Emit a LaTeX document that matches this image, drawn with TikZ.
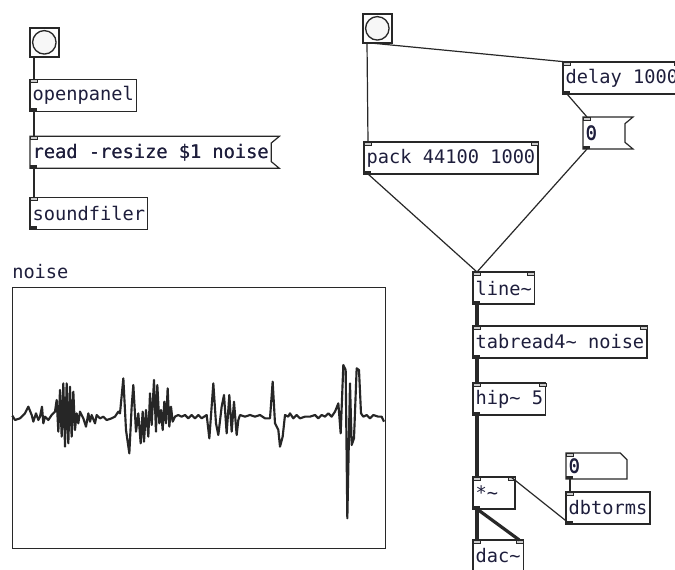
\documentclass[tikz,border=0pt]{standalone}
\usepackage{fontspec}
\usepackage{xcolor}
\usepackage{tikz}
\usetikzlibrary{positioning}

\newfontfamily\pdfont{DejaVu Sans Mono}
\definecolor{pdtext}{RGB}{30,30,60}
\definecolor{pdline}{RGB}{40,40,40}

\newcommand{\inlet}[2][7]{\filldraw[inletsty] (#2) rectangle ++(#1,3);}
\newcommand{\outlet}[1]{\fill[outletsty] (#1) rectangle ++(7,-3);}
\newcommand{\msgflag}[1]{%
  \draw[boxline] (#1.north west) -- ([xshift=6pt]#1.north east)
    -- ([yshift=-5pt]#1.north east) -- ([yshift=5pt]#1.south east)
    -- ([xshift=6pt]#1.south east) -- (#1.south west) -- cycle;}
\newcommand{\atomcut}[1]{%
  \draw[boxline] (#1.north west) -- ([xshift=-5pt]#1.north east)
    -- ([yshift=-5pt]#1.north east) -- (#1.south east)
    -- (#1.south west) -- cycle;}

\begin{document}
\begin{tikzpicture}
 [x=0.75pt, y=-0.75pt,
  pdfnt/.style={font=\pdfont\fontsize{14pt}{16pt}\selectfont, text=pdtext},
  pdobj/.style={pdfnt, draw=pdline, line width=0.9pt, fill=white, anchor=north west,
                minimum height=24pt, inner xsep=2pt, inner ysep=0pt, outer sep=0pt},
  pdmsg/.style={pdobj, draw=none},
  boxline/.style={draw=pdline, line width=0.9pt},
  bangbox/.style={draw=pdline, line width=1.4pt, fill=white, anchor=north west,
                  minimum size=21.5pt, inner sep=0pt, outer sep=0pt},
  bangring/.style={draw=pdline, line width=1pt, fill=gray!6},
  inletsty/.style={fill=gray!40, draw=pdline, line width=0.3pt},
  outletsty/.style={fill=pdline},
  ctl/.style={draw=pdline, line width=0.9pt},
  sig/.style={draw=pdline, line width=2.4pt},
  wave/.style={draw=black!85, line width=1.6pt, line join=round}]

 \useasboundingbox (0,0) rectangle (675,570);
 \fill[white] (0,0) rectangle (675,570);
 \clip (0,0) rectangle (675,570);

 % file loading
 \node (bangL) [bangbox] at (30,28) {};
 \node (openpanel) [below=17pt of bangL.south west, pdobj] {openpanel};
 \node (readmsg)   [below=18.75pt of openpanel.south west, pdmsg] {read -resize \$1 noise};
 \node (soundfiler)[below=21.75pt of readmsg.south west, pdobj] {soundfiler};

 % table
 \node (arrname) [pdfnt, anchor=north west, inner sep=0pt] at (12,264) {noise};
 \node (arraybox) [draw=pdline, line width=1pt, anchor=north west, minimum width=279.75pt,
                   minimum height=195.75pt, inner sep=0pt] at (12,287) {};

 % playback
 \node (bangR) [bangbox] at (363,14) {};
 \node (delay) [pdobj] at (563,62) {delay 1000};
 \node (msgzero) [pdmsg, text width=27.5pt] at (583,117) {0};
 \node (pack) [pdobj] at (364,142) {pack 44100 1000};
 \node (lineT) [pdobj] at (473,272) {line\textasciitilde};
 \node (tabread) [below=16.5pt of lineT.south west, pdobj] {tabread4\textasciitilde{} noise};
 \node (hip) [below=18.75pt of tabread.south west, pdobj] {hip\textasciitilde{} 5};
 \node (mult) [below=46.5pt of hip.south west, pdobj, text width=27.5pt] {*\textasciitilde};
 \node (dac) [below=23.25pt of mult.south west, pdobj] {dac\textasciitilde};
 \node (gatom) [pdmsg, minimum height=19.5pt, text width=41.75pt] at (566,453) {0};
 \node (dbtorms) [below=9.75pt of gatom.south west, pdobj] {dbtorms};

 \msgflag{readmsg}
 \msgflag{msgzero}
 \atomcut{gatom}
 \node[pdfnt, anchor=north west, inner xsep=2pt, inner ysep=0pt, minimum height=24pt] at (readmsg.north west) {read -resize \$1 noise};
 \node[pdfnt, anchor=north west, inner xsep=2pt, inner ysep=0pt, minimum height=24pt] at (msgzero.north west) {0};
 \node[pdfnt, anchor=north west, inner xsep=2pt, inner ysep=0pt, minimum height=19.5pt] at (gatom.north west) {0};

 \draw[bangring] (bangL.center) circle[radius=8.8pt];
 \draw[bangring] (bangR.center) circle[radius=8.8pt];

 % waveform
 \begin{scope}[shift={(0,250)}, x=0.25pt, y=-0.25pt]
  \draw[wave] plot coordinates {
   (37,497) (45,510) (60,505) (75,490) (85,470) (95,495) (100,515) (108,490)
   (115,510) (120,500) (126,470) (130,520) (135,500) (145,510) (155,495) (165,485)
   (170,450) (175,545) (180,420) (185,560) (190,400) (195,590) (200,400) (205,580)
   (210,410) (215,560) (220,425) (225,540) (230,490) (235,520) (240,485) (250,505)
   (258,530) (265,490) (270,515) (275,495) (285,520) (290,495) (300,505) (310,500)
   (320,510) (335,505) (345,500) (355,485) (360,490) (370,385) (378,540) (388,610)
   (395,470) (400,405) (408,545) (415,490) (422,580) (428,485) (432,575) (438,480)
   (445,560) (450,430) (455,525) (462,390) (468,545) (472,405) (478,520) (483,480)
   (488,540) (493,455) (498,520) (503,415) (508,530) (513,470) (518,515) (525,500)
   (535,495) (545,500) (555,495) (565,505) (575,495) (585,505) (595,495) (605,505)
   (620,495) (628,565) (640,400) (648,520) (655,555) (665,470) (672,435) (680,550)
   (688,435) (695,545) (702,455) (710,555) (715,510) (720,495) (735,500) (750,495)
   (765,500) (780,495) (795,505) (810,505) (818,395) (825,520) (835,540) (840,590)
   (848,560) (855,495) (865,500) (870,490) (880,505) (890,495) (900,505) (915,500)
   (930,500) (945,495) (955,505) (965,495) (975,500) (985,490) (995,500) (1005,485)
   (1015,460) (1022,550) (1030,345) (1037,360) (1042,805) (1050,400) (1055,585)
   (1062,565) (1070,355) (1077,360) (1083,490) (1090,500) (1100,495) (1110,505)
   (1120,495) (1135,500) (1145,500) (1152,515)};
 \end{scope}

 % inlets and outlets
 \inlet{openpanel.north west}   \outlet{openpanel.south west}
 \inlet{readmsg.north west}     \outlet{readmsg.south west}
 \inlet{soundfiler.north west}  \outlet{soundfiler.south west}
 \inlet{delay.north west}       \inlet[-7]{delay.north east} \outlet{delay.south west}
 \inlet{msgzero.north west}     \outlet{msgzero.south west}
 \inlet{pack.north west}        \inlet[-7]{pack.north east}  \outlet{pack.south west}
 \inlet{lineT.north west}       \inlet[-7]{lineT.north east} \outlet{lineT.south west}
 \inlet{tabread.north west}     \inlet[-7]{tabread.north east} \outlet{tabread.south west}
 \inlet{hip.north west}         \inlet[-7]{hip.north east}   \outlet{hip.south west}
 \inlet{mult.north west}        \inlet[-7]{mult.north east}  \outlet{mult.south west}
 \inlet{dac.north west}         \inlet[-7]{dac.north east}
 \inlet{gatom.north west}       \outlet{gatom.south west}
 \inlet{dbtorms.north west}     \outlet{dbtorms.south west}

 % connections
 \draw[ctl] ([xshift=3pt]bangL.south west) -- ([xshift=3pt]openpanel.north west);
 \draw[ctl] ([xshift=3pt]openpanel.south west) -- ([xshift=3pt]readmsg.north west);
 \draw[ctl] ([xshift=3pt]readmsg.south west) -- ([xshift=3pt]soundfiler.north west);
 \draw[ctl] ([xshift=3pt]bangR.south west) -- ([xshift=3pt]pack.north west);
 \draw[ctl] ([xshift=3pt]bangR.south west) -- ([xshift=3pt]delay.north west);
 \draw[ctl] ([xshift=3pt]delay.south west) -- ([xshift=3pt]msgzero.north west);
 \draw[ctl] ([xshift=3pt]pack.south west) -- ([xshift=3pt]lineT.north west);
 \draw[ctl] ([xshift=3pt]msgzero.south west) -- ([xshift=3pt]lineT.north west);
 \draw[sig] ([xshift=3pt]lineT.south west) -- ([xshift=3pt]tabread.north west);
 \draw[sig] ([xshift=3pt]tabread.south west) -- ([xshift=3pt]hip.north west);
 \draw[sig] ([xshift=3pt]hip.south west) -- ([xshift=3pt]mult.north west);
 \draw[sig] ([xshift=3pt]mult.south west) -- ([xshift=3pt]dac.north west);
 \draw[sig] ([xshift=3pt]mult.south west) -- ([xshift=-3pt]dac.north east);
 \draw[ctl] ([xshift=3pt]gatom.south west) -- ([xshift=3pt]dbtorms.north west);
 \draw[ctl] ([xshift=3pt]dbtorms.south west) -- ([xshift=-3pt]mult.north east);
\end{tikzpicture}
\end{document}
